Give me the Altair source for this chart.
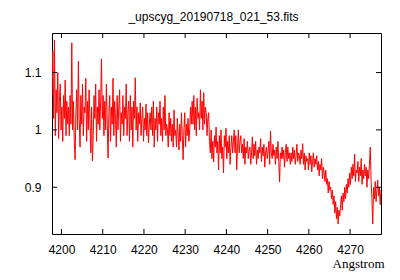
import altair as alt
import pandas as pd

TITLE = "_upscyg_20190718_021_53.fits"
X_LABEL = "Angstrom"
X_TICKS = [4200, 4210, 4220, 4230, 4240, 4250, 4260, 4270]
Y_TICKS = [0.9, 1.0, 1.1]
X_START = 4197.7
X_STEP = 0.2

FLUX = [
    1.06, 1.138, 1.02, 1.157, 0.99, 1.07, 1.03, 1.10, 0.985, 1.05,
    1.08, 1.00, 1.04, 0.98, 1.06, 1.02, 1.087, 0.99, 1.05, 1.01,
    1.04, 0.99, 1.06, 1.01, 1.152, 1.00, 1.05, 0.98, 0.948, 1.03,
    1.07, 1.00, 1.12, 1.02, 0.97, 1.06, 1.01, 1.08, 0.99, 1.04,
    1.03, 1.09, 0.98, 1.05, 1.00, 1.07, 1.02, 0.96, 1.04, 0.946,
    0.99, 1.06, 1.02, 1.08, 0.98, 1.04, 1.01, 1.07, 1.00, 1.05,
    1.124, 1.02, 1.06, 0.99, 1.05, 1.00, 1.08, 1.01, 0.951, 1.03,
    1.06, 0.98, 1.04, 1.01, 1.09, 0.99, 1.05, 1.02, 0.97, 1.06,
    1.00, 1.04, 1.07, 0.98, 1.03, 1.01, 1.06, 0.99, 1.04, 1.02,
    1.08, 0.99, 1.03, 1.05, 0.98, 1.06, 1.00, 1.04, 0.97, 1.05,
    1.02, 1.091, 1.00, 1.04, 0.98, 1.03, 1.01, 1.047, 0.99, 1.02,
    1.04, 0.98, 1.02, 1.00, 1.045, 0.99, 1.03, 0.977, 1.01, 1.03,
    1.00, 1.04, 0.99, 1.05, 0.97, 1.02, 1.00, 1.04, 0.98, 1.03,
    1.01, 1.05, 0.99, 1.02, 0.98, 1.04, 1.00, 1.06, 0.99, 1.01,
    1.00, 0.97, 1.03, 0.99, 1.02, 0.98, 1.01, 0.97, 1.035, 0.99,
    1.00, 0.97, 1.02, 0.99, 0.965, 1.01, 0.98, 1.03, 0.99, 0.948,
    1.00, 1.03, 0.97, 1.01, 0.99, 1.02, 0.98, 1.00, 1.04, 1.01,
    1.05, 1.01, 1.06, 1.00, 1.04, 0.99, 1.055, 1.02, 1.03, 1.00,
    1.07, 1.02, 1.05, 1.00, 1.065, 1.01, 1.04, 1.03, 0.99, 1.02,
    1.03, 0.98, 0.96, 1.00, 0.95, 0.98, 0.944, 0.99, 0.97, 1.005,
    0.96, 0.98, 0.93, 0.99, 0.96, 1.00, 0.95, 0.97, 0.925, 0.99,
    0.97, 1.003, 0.95, 0.98, 0.96, 0.99, 0.94, 0.97, 0.99, 0.96,
    0.98, 1.00, 0.96, 0.99, 0.93, 0.97, 1.00, 0.96, 0.98, 0.99,
    0.96, 0.975, 0.95, 0.985, 0.94, 0.97, 0.96, 0.98, 0.95, 0.965,
    0.97, 0.94, 0.96, 0.988, 0.95, 0.975, 0.955, 0.98, 0.94, 0.965,
    0.95, 0.97, 0.96, 0.985, 0.945, 0.97, 0.955, 0.975, 0.935, 0.96,
    0.97, 0.95, 0.96, 0.98, 0.94, 0.998, 0.96, 0.95, 0.975, 0.955,
    0.965, 0.94, 0.97, 0.95, 0.98, 0.945, 0.909, 0.96, 0.95, 0.97,
    0.95, 0.965, 0.935, 0.96, 0.975, 0.945, 0.97, 0.95, 0.96, 0.94,
    0.96, 0.945, 0.97, 0.95, 0.965, 0.94, 0.955, 0.975, 0.945, 0.96,
    0.955, 0.94, 0.965, 0.95, 0.976, 0.94, 0.96, 0.93, 0.955, 0.945,
    0.95, 0.93, 0.96, 0.94, 0.955, 0.927, 0.945, 0.96, 0.935, 0.95,
    0.94, 0.955, 0.93, 0.945, 0.92, 0.94, 0.93, 0.95, 0.915, 0.935,
    0.925, 0.91, 0.93, 0.905, 0.915, 0.89, 0.91, 0.895, 0.90, 0.88,
    0.895, 0.87, 0.885, 0.855, 0.875, 0.845, 0.865, 0.836, 0.86, 0.85,
    0.87, 0.885, 0.86, 0.89, 0.875, 0.90, 0.88, 0.905, 0.89, 0.915,
    0.90, 0.925, 0.905, 0.935, 0.915, 0.94, 0.92, 0.958, 0.91, 0.93,
    0.925, 0.945, 0.91, 0.935, 0.92, 0.95, 0.905, 0.93, 0.915, 0.94,
    0.92, 0.935, 0.90, 0.93, 0.915, 0.94, 0.97, 0.91, 0.88, 0.836,
    0.90, 0.88, 0.91, 0.875, 0.895, 0.913, 0.885, 0.90, 0.87, 0.895,
]

LAM = [round(X_START + X_STEP * i, 2) for i in range(len(FLUX))]

X_DOMAIN = [4197.7, 4277.5]
Y_DOMAIN = [0.8185, 1.169]
W, H = 329, 201

spec = pd.DataFrame({"lam": LAM, "flux": FLUX})
xt = pd.DataFrame({"lam": X_TICKS})
yt = pd.DataFrame({"flux": Y_TICKS})

xs = alt.Scale(domain=X_DOMAIN, nice=False, zero=False)
ys = alt.Scale(domain=Y_DOMAIN, nice=False, zero=False)

x_axis = alt.Axis(values=X_TICKS, format="d", ticks=False, domain=False, grid=False,
                  labelFont="Liberation Sans", labelFontSize=12, labelColor="black",
                  labelPadding=10, labelFlush=False,
                  titleFont="Liberation Serif", titleFontSize=13, titleFontWeight="normal",
                  titleColor="black", titleX=332, titleY=33.5, titleAlign="right",
                  titleBaseline="alphabetic")
y_axis = alt.Axis(values=Y_TICKS, format="~g", ticks=False, domain=False, grid=False,
                  labelFont="Liberation Sans", labelFontSize=12, labelColor="black",
                  labelPadding=11, labelFlush=False)

X = alt.X("lam:Q", scale=xs, title=X_LABEL, axis=x_axis)
Y = alt.Y("flux:Q", scale=ys, title="", axis=y_axis)

line = alt.Chart(spec).mark_line(color="#ff0000", strokeWidth=1, clip=True).encode(x=X, y=Y)

xb = alt.Chart(xt).mark_rule(color="black", strokeWidth=1).encode(
    x=X, y=alt.value(H), y2=alt.value(H - 5))
xtop = alt.Chart(xt).mark_rule(color="black", strokeWidth=1).encode(
    x=X, y=alt.value(0), y2=alt.value(5))
yl = alt.Chart(yt).mark_rule(color="black", strokeWidth=1).encode(
    y=Y, x=alt.value(0), x2=alt.value(5))
yr = alt.Chart(yt).mark_rule(color="black", strokeWidth=1).encode(
    y=Y, x=alt.value(W), x2=alt.value(W - 5))

chart = alt.layer(line, xb, xtop, yl, yr).properties(
    width=W, height=H,
    title=alt.TitleParams(TITLE, font="Liberation Sans", fontSize=12, fontWeight="normal",
                          color="black", anchor="middle", baseline="alphabetic", offset=0, dx=-3),
    padding={"left": 44, "top": 25, "right": 11, "bottom": 42},
    autosize=alt.AutoSizeParams(type="none"),
    background="white",
).configure_view(stroke="black", strokeWidth=1)

chart.save("out.html", embed_options={"renderer": "svg", "actions": False})
